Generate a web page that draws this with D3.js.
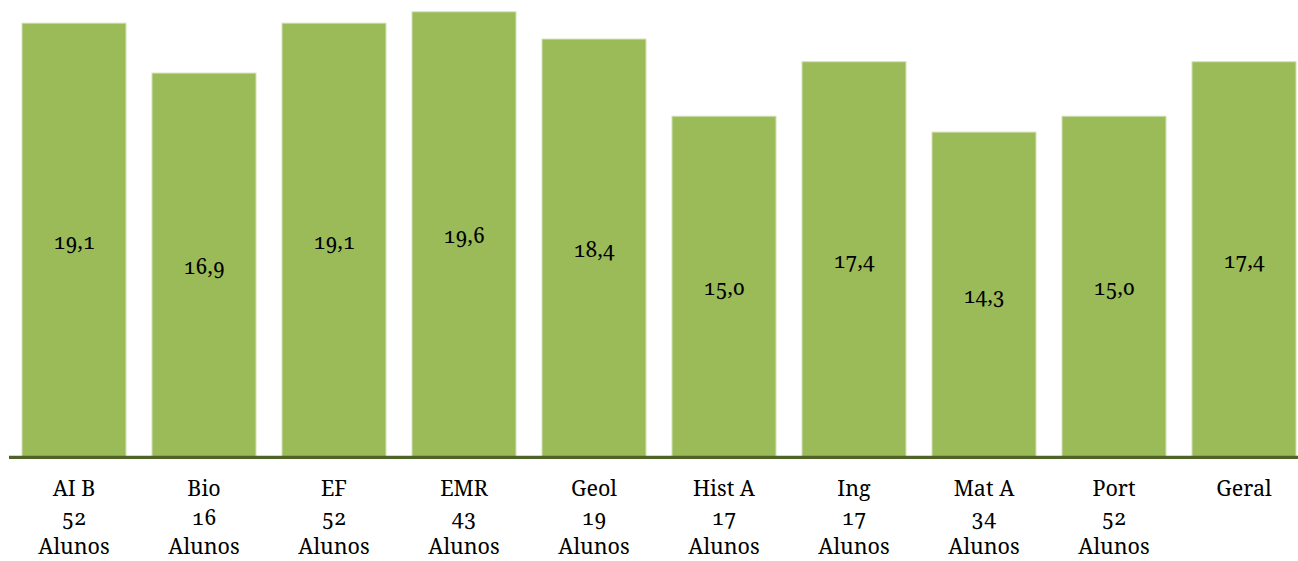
<!DOCTYPE html><html><head><meta charset="utf-8"><script src="https://cdn.jsdelivr.net/npm/d3@7"></script>
<style>body{margin:0;background:#fff}text{font-family:"Noto Serif",serif;font-feature-settings:"onum" 1;fill:#000}</style></head><body>
<svg id="c" width="1298" height="561"></svg>
<script>
const categories=["AI B","Bio","EF","EMR","Geol","Hist A","Ing","Mat A","Port","Geral"];
const counts=["52","16","52","43","19","17","17","34","52",""];
const values=[19.1,16.9,19.1,19.6,18.4,15.0,17.4,14.3,15.0,17.4];
const svg=d3.select("#c");
const x=d3.scaleBand().domain(categories).range([9,1309]).paddingInner(0.2).paddingOuter(0.1);
const y=d3.scaleLinear().domain([0,20]).range([456.7,2.7]);
const fmt=v=>d3.format(".1f")(v).replace(".",",");
const data=categories.map((c,i)=>({c,v:values[i],n:counts[i]}));
svg.selectAll("rect.bar").data(data).join("rect").attr("class","bar")
 .attr("x",d=>x(d.c)).attr("width",x.bandwidth())
 .attr("y",d=>y(d.v)).attr("height",d=>y(0)-y(d.v))
 .attr("fill","#9bbb59").attr("stroke","#d3e2b6").attr("stroke-width",1);
svg.append("line").attr("x1",9).attr("x2",1298).attr("y1",457.3).attr("y2",457.3)
 .attr("stroke","#4f6228").attr("stroke-width",3.2);
svg.selectAll("text.val").data(data).join("text").attr("class","val")
 .attr("x",d=>x(d.c)+x.bandwidth()/2).attr("y",d=>(y(d.v)+y(0))/2+9)
 .attr("text-anchor","middle").attr("font-size",21).text(d=>fmt(d.v));
const lab=svg.selectAll("g.lab").data(data).join("g").attr("class","lab")
 .attr("transform",d=>`translate(${x(d.c)+x.bandwidth()/2},0)`);
lab.append("text").attr("y",496).attr("text-anchor","middle").attr("font-size",21.5).text(d=>d.c);
lab.filter(d=>d.n).append("text").attr("y",525).attr("text-anchor","middle").attr("font-size",21.5).text(d=>d.n);
lab.filter(d=>d.n).append("text").attr("y",554).attr("text-anchor","middle").attr("font-size",21.5).text("Alunos");
</script></body></html>
